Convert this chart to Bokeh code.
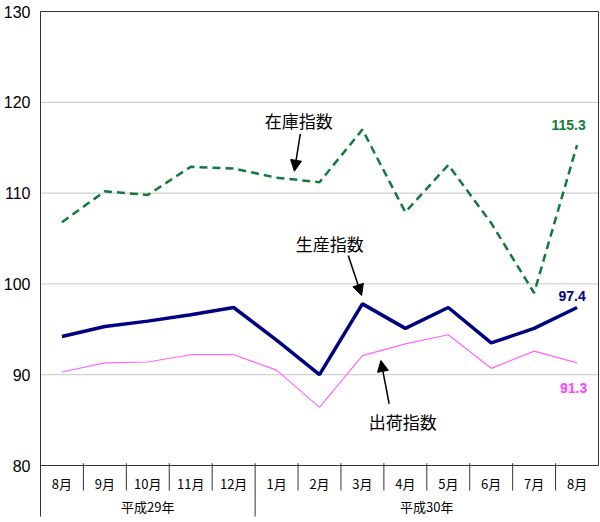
from bokeh.plotting import figure
from bokeh.models import FixedTicker, Arrow, NormalHead, Range1d
from bokeh.core.properties import value
from bokeh.embed import file_html
from bokeh.resources import INLINE

# ---- data ----
months = ["8月", "9月", "10月", "11月", "12月", "1月", "2月", "3月", "4月", "5月", "6月", "7月", "8月"]
years = ["平成29年", "平成30年"]
year_months = [5, 8]
inventory = [106.8, 110.2, 109.8, 112.9, 112.7, 111.7, 111.2, 117.0, 107.9, 113.1, 106.7, 99.0, 115.3]
production = [94.2, 95.3, 95.9, 96.6, 97.4, 93.8, 90.0, 97.8, 95.1, 97.4, 93.5, 95.1, 97.4]
shipments = [90.3, 91.3, 91.4, 92.2, 92.2, 90.5, 86.4, 92.1, 93.4, 94.4, 90.7, 92.6, 91.3]
y_ticks = [80, 90, 100, 110, 120, 130]
grid_values = [90, 100, 110, 120]
series_names = ["在庫指数", "生産指数", "出荷指数"]

n = len(months)
xs = [i + 0.5 for i in range(n)]
ymin, ymax = y_ticks[0], y_ticks[-1]

PX = 9.08  # pixels per unit (layout)
c = 0.0233
p = figure(width=600, height=522,
           x_range=Range1d(-c, n + c),
           y_range=Range1d(ymin - 53 / PX, ymax + 1 / PX),
           output_backend="svg", toolbar_location=None,
           x_axis_location=None,
           min_border_left=38, min_border_right=1,
           min_border_top=10, min_border_bottom=4)
p.outline_line_color = None
p.xgrid.visible = False
p.ygrid.visible = False
p.background_fill_color = "white"
p.border_fill_color = "white"

ax = p.yaxis[0]
ax.ticker = FixedTicker(ticks=y_ticks)
ax.axis_line_color = None
ax.major_tick_line_color = None
ax.minor_tick_line_color = None
ax.major_tick_out = 0
ax.major_tick_in = 0
ax.major_label_standoff = 9
ax.major_label_text_font = "Liberation Sans"
ax.major_label_text_font_size = "16px"
ax.major_label_text_color = "black"

# grid lines
p.segment(x0=[0] * len(grid_values), x1=[n] * len(grid_values), y0=grid_values, y1=grid_values,
          line_color="#8a8a8a", line_width=1, line_dash="1 1")

# frame
bottom_ext = ymin - 51 / PX
p.segment(x0=[0, 0, n, 0], x1=[0, n, n, n],
          y0=[bottom_ext, ymax, ymin, ymin], y1=[ymax, ymax, ymax, ymin],
          line_color="#333333", line_width=1)

# category separators
year_bounds = []
acc = 0
for k in year_months:
    acc += k
    year_bounds.append(acc)
sep_x = [i for i in range(1, n) if i not in year_bounds]
p.segment(x0=sep_x, x1=sep_x, y0=[ymin + 2.3 / PX] * len(sep_x), y1=[ymin - 25 / PX] * len(sep_x),
          line_color="#333333", line_width=1)
ysep = [b for b in year_bounds if b < n]
p.segment(x0=ysep, x1=ysep, y0=[ymin + 2.3 / PX] * len(ysep), y1=[bottom_ext] * len(ysep),
          line_color="#333333", line_width=1)

# category labels
p.text(x=xs, y=[ymin - 17.5 / PX] * n, text=months, text_align="center", text_baseline="middle",
       text_font=value("Noto Sans CJK JP"), text_font_size="13px", text_color="black")
ycx = []
start = 0
for k in year_months:
    ycx.append(start + k / 2)
    start += k
p.text(x=ycx, y=[ymin - 41 / PX] * len(years), text=years, text_align="center", text_baseline="middle",
       text_font=value("Noto Sans CJK JP"), text_font_size="13px", text_color="black")

# series
p.line(xs, shipments, line_color="#ff66ff", line_width=1.2)
p.line(xs, inventory, line_color="#127a3a", line_width=2.5, line_dash="8 5")
p.line(xs, production, line_color="#000080", line_width=3.5)

# end labels
p.text(x=[xs[-1]], y=[inventory[-1]], text=[f"{inventory[-1]:.1f}"], x_offset=-8.5, y_offset=-20,
       text_align="center", text_baseline="middle", text_font=value("Liberation Sans"),
       text_font_style="bold", text_font_size="14px", text_color="#127a3a")
p.text(x=[xs[-1]], y=[production[-1]], text=[f"{production[-1]:.1f}"], x_offset=-5, y_offset=-12,
       text_align="center", text_baseline="middle", text_font=value("Liberation Sans"),
       text_font_style="bold", text_font_size="14px", text_color="#000080")
p.text(x=[xs[-1]], y=[shipments[-1]], text=[f"{shipments[-1]:.1f}"], x_offset=-3.5, y_offset=25,
       text_align="center", text_baseline="middle", text_font=value("Liberation Sans"),
       text_font_style="bold", text_font_size="14px", text_color="#ff44ff")

# annotations
p.text(x=[6.016, 6.74, 8.44], y=[117.99, 104.5, 84.87], text=series_names,
       text_align="center", text_baseline="middle", text_font=value("Noto Sans CJK JP"),
       text_font_size="17px", text_color="black")
for xs0, ys0, xe, ye in [(6.053, 116.53, 5.914, 112.41), (7.170, 103.13, 7.481, 98.72),
                         (8.123, 86.80, 7.930, 91.56)]:
    p.add_layout(Arrow(end=NormalHead(size=11, fill_color="black", line_color="black", line_width=1),
                       x_start=xs0, y_start=ys0, x_end=xe, y_end=ye,
                       line_color="black", line_width=1.5))

open("out.html", "w").write(file_html(p, INLINE))
